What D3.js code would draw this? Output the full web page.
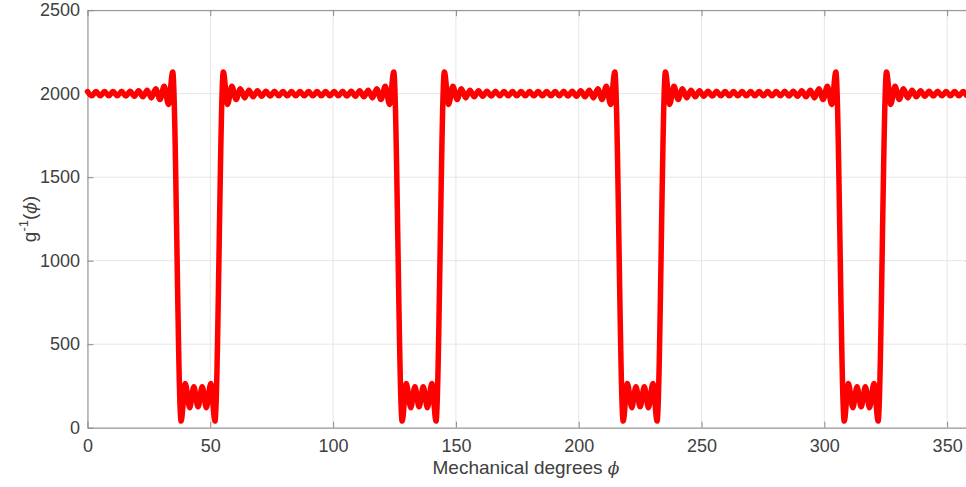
<!DOCTYPE html>
<html><head><meta charset="utf-8">
<script src="https://cdn.jsdelivr.net/npm/d3@7"></script>
<style>
body{margin:0;background:#fff;}
svg text{font-family:"Liberation Sans",Arial,Helvetica,sans-serif;}
</style>
</head><body>
<svg id="chart" width="966" height="487"></svg>
<script>
// Mechanical degrees (x) and g^-1(phi) values
const phi = [
0,1.74,3.47,5.21,6.94,8.68,10.41,12.15,13.88,15.62,17.35,19.09,20.82,22.56,24.29,26.03,27.76,29.5,31.23,32.97,34.7,
38.1,39.8,41.6,43.3,45,46.7,48.4,50.2,51.9,
55.3,57.03,58.77,60.5,62.24,63.97,65.71,67.44,69.18,70.91,72.65,74.38,76.12,77.85,79.59,81.32,83.06,84.79,86.53,88.26,
90,91.74,93.47,95.21,96.94,98.68,100.41,102.15,103.88,105.62,107.35,109.09,110.82,112.56,114.29,116.03,117.76,119.5,121.23,122.97,124.7,
128.1,129.8,131.6,133.3,135,136.7,138.4,140.2,141.9,
145.3,147.03,148.77,150.5,152.24,153.97,155.71,157.44,159.18,160.91,162.65,164.38,166.12,167.85,169.59,171.32,173.06,174.79,176.53,178.26,
180,181.74,183.47,185.21,186.94,188.68,190.41,192.15,193.88,195.62,197.35,199.09,200.82,202.56,204.29,206.03,207.76,209.5,211.23,212.97,214.7,
218.1,219.8,221.6,223.3,225,226.7,228.4,230.2,231.9,
235.3,237.03,238.77,240.5,242.24,243.97,245.71,247.44,249.18,250.91,252.65,254.38,256.12,257.85,259.59,261.32,263.06,264.79,266.53,268.26,
270,271.74,273.47,275.21,276.94,278.68,280.41,282.15,283.88,285.62,287.35,289.09,290.82,292.56,294.29,296.03,297.76,299.5,301.23,302.97,304.7,
308.1,309.8,311.6,313.3,315,316.7,318.4,320.2,321.9,
325.3,327.03,328.77,330.5,332.24,333.97,335.71,337.44,339.18,340.91,342.65,344.38,346.12,347.85,349.59,351.32,353.06,354.79,356.53,358.26,
360];
const gInv = [
2013,1987,2013,1987,2013,1987,2013,1987,2014,1986,2015,1984,2017,1981,2021,1975,2030,1965,2045,1936,2130,
40,265,120,245,125,245,120,265,40,
2130,1936,2045,1965,2030,1975,2021,1981,2017,1984,2015,1986,2014,1987,2013,1987,2013,1987,2013,1987,
2013,1987,2013,1987,2013,1987,2013,1987,2014,1986,2015,1984,2017,1981,2021,1975,2030,1965,2045,1936,2130,
40,265,120,245,125,245,120,265,40,
2130,1936,2045,1965,2030,1975,2021,1981,2017,1984,2015,1986,2014,1987,2013,1987,2013,1987,2013,1987,
2013,1987,2013,1987,2013,1987,2013,1987,2014,1986,2015,1984,2017,1981,2021,1975,2030,1965,2045,1936,2130,
40,265,120,245,125,245,120,265,40,
2130,1936,2045,1965,2030,1975,2021,1981,2017,1984,2015,1986,2014,1987,2013,1987,2013,1987,2013,1987,
2013,1987,2013,1987,2013,1987,2013,1987,2014,1986,2015,1984,2017,1981,2021,1975,2030,1965,2045,1936,2130,
40,265,120,245,125,245,120,265,40,
2130,1936,2045,1965,2030,1975,2021,1981,2017,1984,2015,1986,2014,1987,2013,1987,2013,1987,2013,1987,
2013];
const xTicks = [0,50,100,150,200,250,300,350];
const yTicks = [0,500,1000,1500,2000,2500];
const xDomain = [0,360];
const yDomain = [0,2500];

const svg = d3.select("#chart");
const L = 87.5, R = 971.7, T = 10.2, B = 427.7;
const x = d3.scaleLinear().domain(xDomain).range([L,R]);
const y = d3.scaleLinear().domain(yDomain).range([B,T]);

// grid
const grid = svg.append("g").attr("stroke","#e6e6e6").attr("stroke-width",1);
grid.selectAll("line.v").data(xTicks).join("line").attr("class","v")
  .attr("x1",d=>x(d)).attr("x2",d=>x(d)).attr("y1",T).attr("y2",B);
grid.selectAll("line.h").data(yTicks).join("line").attr("class","h")
  .attr("x1",L).attr("x2",R).attr("y1",d=>y(d)).attr("y2",d=>y(d));

// axes
const axisColor = "#8a8a8a", textColor = "#404040";
const fs = "18px";
const fmt = d3.format("d");
function style(g){
  g.selectAll(".domain").attr("stroke",axisColor);
  g.selectAll(".tick line").attr("stroke",axisColor);
  g.selectAll(".tick text").attr("fill",textColor).style("font-size",fs);
}
svg.append("g").attr("transform",`translate(0,${B})`)
  .call(d3.axisBottom(x).tickValues(xTicks).tickFormat(fmt).tickSize(-6).tickPadding(12).tickSizeOuter(0))
  .call(style);
svg.append("g").attr("transform",`translate(0,${T})`)
  .call(d3.axisTop(x).tickValues(xTicks).tickSize(-6).tickFormat("").tickSizeOuter(0))
  .call(style);
svg.append("g").attr("transform",`translate(${L},0)`)
  .call(d3.axisLeft(y).tickValues(yTicks).tickFormat(fmt).tickSize(-6).tickPadding(7.5).tickSizeOuter(0))
  .call(style);
svg.append("g").attr("transform",`translate(${R},0)`)
  .call(d3.axisRight(y).tickValues(yTicks).tickSize(-6).tickFormat("").tickSizeOuter(0))
  .call(style);

// data line
const pts = phi.map((p,i)=>[p,gInv[i]]);
const line = d3.line().x(d=>x(d[0])).y(d=>y(d[1])).curve(d3.curveMonotoneX);
svg.append("path").datum(pts).attr("d",line)
  .attr("fill","none").attr("stroke","#ff0000").attr("stroke-width",5.5)
  .attr("stroke-linejoin","round").attr("stroke-linecap","round");

// labels
const xl = svg.append("text").attr("x",526).attr("y",474).attr("text-anchor","middle")
  .attr("fill",textColor).style("font-size","19px");
xl.append("tspan").text("Mechanical degrees ");
xl.append("tspan").attr("font-style","italic").attr("font-family","'DejaVu Serif',serif").style("font-size","17px").text("ϕ");

const yl = svg.append("text").attr("transform","translate(36,219) rotate(-90)")
  .attr("text-anchor","middle").attr("fill",textColor).style("font-size","19px");
yl.append("tspan").text("g");
yl.append("tspan").attr("dy",-8).style("font-size","13px").text("-1");
yl.append("tspan").attr("dy",8).text("(");
yl.append("tspan").attr("font-style","italic").attr("font-family","'DejaVu Serif',serif").style("font-size","17px").text("ϕ");
yl.append("tspan").text(")");
</script>
</body></html>
